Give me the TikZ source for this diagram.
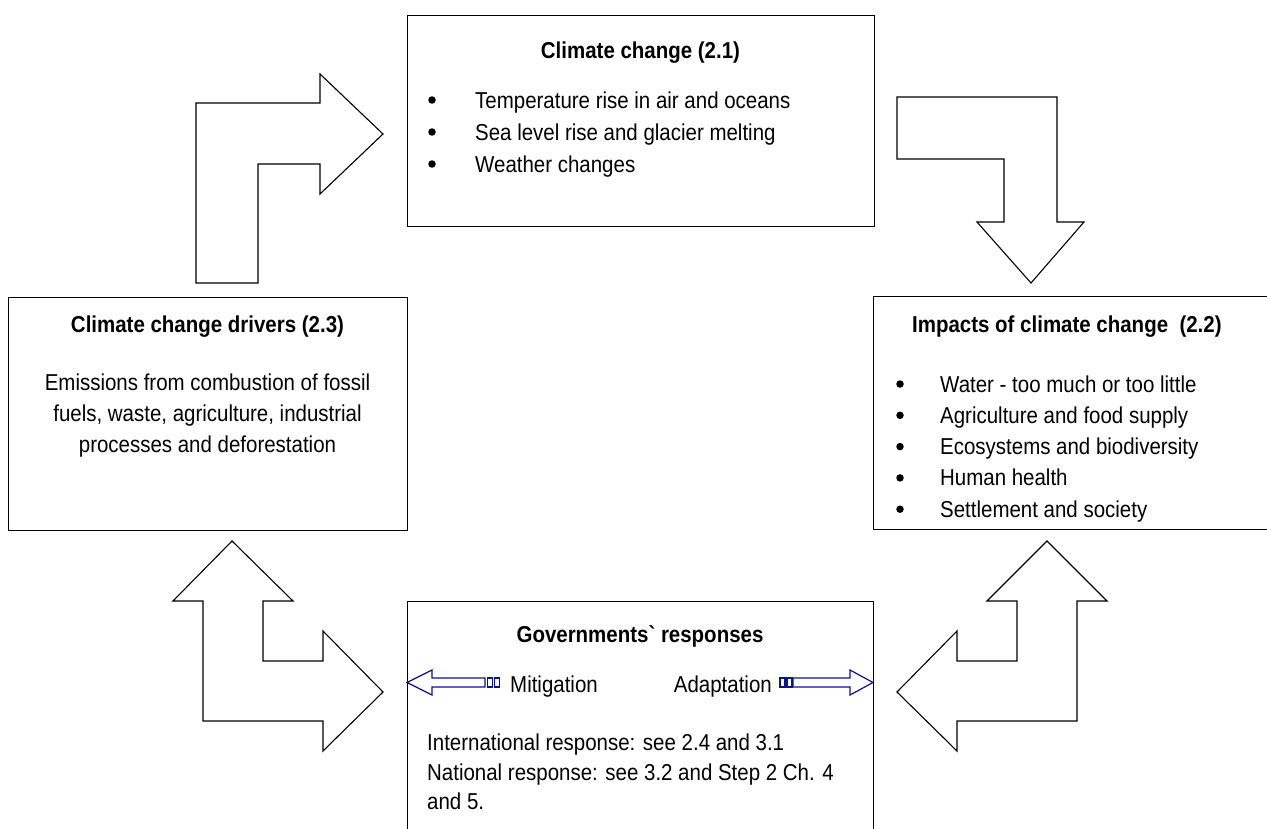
\documentclass[tikz,border=0pt]{standalone}
\usepackage{fontspec}
\setmainfont{Liberation Sans}[FakeStretch=0.89, Ligatures=TeXOff]
\definecolor{navy}{RGB}{10,20,140}
\newcommand{\bodysize}{\fontsize{23}{31.5}\selectfont}
\begin{document}
\begin{tikzpicture}[x=1pt,y=-1pt,
  panel/.style={draw, line width=1.3pt, inner sep=0, anchor=north west, fill=white},
  txt/.style={inner sep=0, font=\bodysize},
  head/.style={inner sep=0, font=\bodysize\bfseries},
  dot/.style={circle, fill=black, inner sep=0, minimum size=7.5pt},
  blockarrow/.style={draw, line width=1.1pt, line join=miter, fill=white},
  thinarrow/.style={draw=navy, line width=1.2pt, line join=miter, fill=white}]
\useasboundingbox (0,0) rectangle (1267,828);
\clip (0,0) rectangle (1267,828);

% ---- the four panels ----
\node[panel, minimum width=467pt, minimum height=211pt] (cc)  at (407,15)  {};
\node[panel, minimum width=399pt, minimum height=233pt] (drv) at (8,297)   {};
\node[panel, minimum width=430pt, minimum height=233pt] (imp) at (873,296) {};
\node[panel, minimum width=466pt, minimum height=260pt] (gov) at (407,601) {};

% ---- climate change ----
\node[head, anchor=base] (ccT) at (640.5,58) {Climate change (2.1)};
\foreach \t [count=\i] in {Temperature rise in air and oceans,
                            Sea level rise and glacier melting,
                            Weather changes} {
  \node[dot] (ccB\i) at (432,{108+32*(\i-1)-8}) {};
  \node[txt, anchor=base west] (ccL\i) at (475,{108+32*(\i-1)}) {\t};
}

% ---- drivers ----
\node[head, anchor=base] (drvT) at (207.5,332) {Climate change drivers (2.3)};
\node[txt, anchor=base] (drv1) at (207.5,390) {Emissions from combustion of fossil};
\node[txt, anchor=base] (drv2) at (207.5,421) {fuels, waste, agriculture, industrial};
\node[txt, anchor=base] (drv3) at (207.5,452) {processes and deforestation};

% ---- impacts ----
\node[head, anchor=base west] (impT) at (912,332) {Impacts of climate change\ \ (2.2)};
\foreach \t [count=\i] in {Water - too much or too little,
                            Agriculture and food supply,
                            Ecosystems and biodiversity,
                            Human health,
                            Settlement and society} {
  \node[dot] (impB\i) at (900,{392+31.3*(\i-1)-8}) {};
  \node[txt, anchor=base west] (impL\i) at (940,{392+31.3*(\i-1)}) {\t};
}

% ---- governments ----
\node[head, anchor=base] (govT) at (640,642) {Governments` responses};
\node[txt, anchor=base west] (mit) at (510,692) {Mitigation};
\node[txt, anchor=base east] (ada) at (772,692) {Adaptation};
\node[txt, anchor=base west] (gov1) at (427,750) {International response: see 2.4 and 3.1};
\node[txt, anchor=base west] (gov2) at (427,780) {National response: see 3.2 and Step 2 Ch. 4};
\node[txt, anchor=base west] (gov3) at (427,809) {and 5.};

% ---- striped arrows inside the response panel ----
\path[thinarrow] (407,682.5) -- (432,670) -- (432,678) -- (485,678) -- (485,687)
  -- (432,687) -- (432,695) -- cycle;
\path[thinarrow] (487.5,678) rectangle (492.5,687);
\path[thinarrow] (494.5,678) rectangle (499.5,687);
\path[thinarrow] (873,682.5) -- (850,670) -- (850,678) -- (793,678) -- (793,687)
  -- (850,687) -- (850,695) -- cycle;
\path[thinarrow] (780,678) rectangle (785,687);
\path[thinarrow] (787,678) rectangle (792,687);

% ---- block arrows between the panels ----
% drivers -> climate change
\path[blockarrow] (196,283) -- (196,103) -- (320,103) -- (320,74) -- (383,134)
  -- (320,194) -- (320,164) -- (258,164) -- (258,283) -- cycle;
% climate change -> impacts
\path[blockarrow] (897,97) -- (1057,97) -- (1057,222) -- (1084,222) -- (1031,283)
  -- (977,222) -- (1004,222) -- (1004,159) -- (897,159) -- cycle;
% drivers <-> responses
\path[blockarrow] (232,541) -- (293,601) -- (263,601) -- (263,661) -- (323,661)
  -- (323,631) -- (383,692) -- (323,751) -- (323,721) -- (203,721) -- (203,601)
  -- (173,601) -- cycle;
% impacts <-> responses
\path[blockarrow] (1047,541) -- (1107,601) -- (1077,601) -- (1077,721) -- (957,721)
  -- (957,751) -- (897,692) -- (957,631) -- (957,661) -- (1017,661) -- (1017,601)
  -- (987,601) -- cycle;
\end{tikzpicture}
\end{document}
